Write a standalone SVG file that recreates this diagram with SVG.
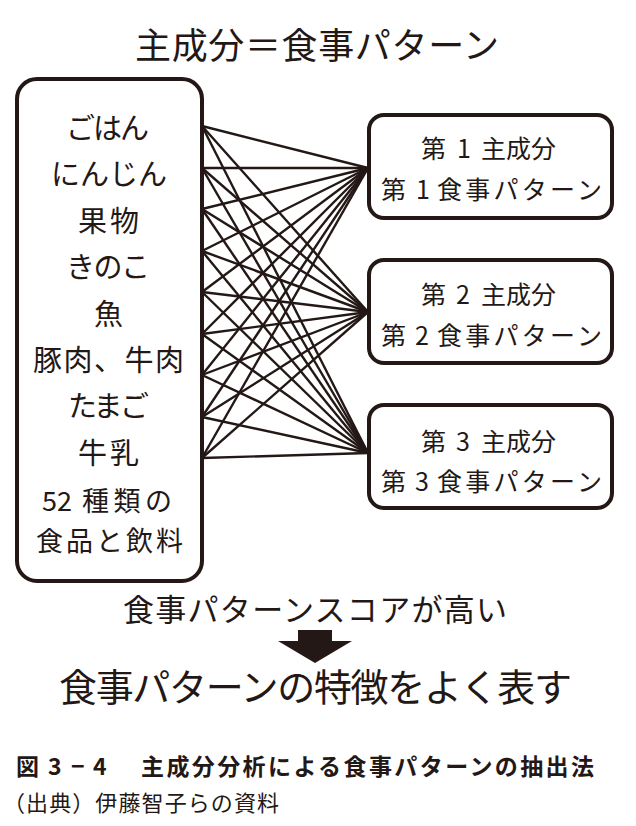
<svg xmlns="http://www.w3.org/2000/svg" width="636" height="826" viewBox="0 0 636 826">
<style>
text{font-family:"Noto Sans CJK JP","Noto Sans",sans-serif;fill:#231815}
.box{fill:#fff;stroke:#231815;stroke-width:4}
.l{font-size:29px}
.s{font-size:27px}
.r{font-size:25px}
#connectors line{stroke:#231815;stroke-width:2.4}
</style>
<rect width="636" height="826" fill="#fff"/>
<text x="135" y="59" font-size="36" textLength="364" lengthAdjust="spacing">主成分＝食事パターン</text>
<g id="connectors">
<line x1="202" y1="126" x2="368" y2="168"/><line x1="202" y1="126" x2="368" y2="312"/><line x1="202" y1="126" x2="368" y2="453"/>
<line x1="202" y1="168" x2="368" y2="168"/><line x1="202" y1="168" x2="368" y2="312"/><line x1="202" y1="168" x2="368" y2="453"/>
<line x1="202" y1="209" x2="368" y2="168"/><line x1="202" y1="209" x2="368" y2="312"/><line x1="202" y1="209" x2="368" y2="453"/>
<line x1="202" y1="251" x2="368" y2="168"/><line x1="202" y1="251" x2="368" y2="312"/><line x1="202" y1="251" x2="368" y2="453"/>
<line x1="202" y1="292" x2="368" y2="168"/><line x1="202" y1="292" x2="368" y2="312"/><line x1="202" y1="292" x2="368" y2="453"/>
<line x1="202" y1="334" x2="368" y2="168"/><line x1="202" y1="334" x2="368" y2="312"/><line x1="202" y1="334" x2="368" y2="453"/>
<line x1="202" y1="375" x2="368" y2="168"/><line x1="202" y1="375" x2="368" y2="312"/><line x1="202" y1="375" x2="368" y2="453"/>
<line x1="202" y1="417" x2="368" y2="168"/><line x1="202" y1="417" x2="368" y2="312"/><line x1="202" y1="417" x2="368" y2="453"/>
<line x1="202" y1="458" x2="368" y2="168"/><line x1="202" y1="458" x2="368" y2="312"/><line x1="202" y1="458" x2="368" y2="453"/>
</g>
<g id="foods">
<rect class="box" x="17" y="79" width="185" height="502" rx="20"/>
<text class="l" x="66" y="139" textLength="83" lengthAdjust="spacing">ごはん</text>
<text class="l" x="51" y="185" textLength="116" lengthAdjust="spacing">にんじん</text>
<text class="l" x="78" y="232" textLength="61" lengthAdjust="spacing">果物</text>
<text class="l" x="66" y="278" textLength="84" lengthAdjust="spacing">きのこ</text>
<text class="l" x="94" y="325">魚</text>
<text class="l" x="33" y="371" textLength="151" lengthAdjust="spacing">豚肉、牛肉</text>
<text class="l" x="68" y="417" textLength="81" lengthAdjust="spacing">たまご</text>
<text class="l" x="78" y="464" textLength="61" lengthAdjust="spacing">牛乳</text>
<text class="s" x="42" y="511">52</text>
<text class="s" x="82" y="511" textLength="90" lengthAdjust="spacing">種類の</text>
<text class="s" x="36" y="551" textLength="147" lengthAdjust="spacing">食品と飲料</text>
</g>
<g id="pc1">
<rect class="box" x="369" y="115" width="243" height="103" rx="15"/>
<text class="r" y="158"><tspan x="421">第</tspan><tspan x="457">1</tspan><tspan x="481">主成分</tspan></text>
<text class="r" y="199"><tspan x="381">第</tspan><tspan x="416">1</tspan><tspan x="437" textLength="165" lengthAdjust="spacing">食事パターン</tspan></text>
</g>
<g id="pc2">
<rect class="box" x="369" y="260" width="243" height="103" rx="15"/>
<text class="r" y="304"><tspan x="421">第</tspan><tspan x="456">2</tspan><tspan x="481">主成分</tspan></text>
<text class="r" y="345"><tspan x="381">第</tspan><tspan x="415">2</tspan><tspan x="437" textLength="165" lengthAdjust="spacing">食事パターン</tspan></text>
</g>
<g id="pc3">
<rect class="box" x="369" y="405" width="243" height="103" rx="15"/>
<text class="r" y="451"><tspan x="421">第</tspan><tspan x="456">3</tspan><tspan x="481">主成分</tspan></text>
<text class="r" y="491"><tspan x="381">第</tspan><tspan x="415">3</tspan><tspan x="437" textLength="165" lengthAdjust="spacing">食事パターン</tspan></text>
</g>
<text x="123" y="621" font-size="31" textLength="384" lengthAdjust="spacing">食事パターンスコアが高い</text>
<polygon points="298,630 332,630 332,641 352,641 315,663 278,641 298,641" fill="#231815"/>
<text x="59" y="701" font-size="38" textLength="513" lengthAdjust="spacing">食事パターンの特徴をよく表す</text>
<g font-weight="bold" font-size="23">
<text x="16" y="775">図</text>
<text x="48" y="775">3</text>
<text x="71" y="775">−</text>
<text x="93" y="775">4</text>
<text x="141" y="775" textLength="453" lengthAdjust="spacing">主成分分析による食事パターンの抽出法</text>
</g>
<text x="3" y="811" font-size="22" textLength="276" lengthAdjust="spacing">（出典）伊藤智子らの資料</text>
</svg>
